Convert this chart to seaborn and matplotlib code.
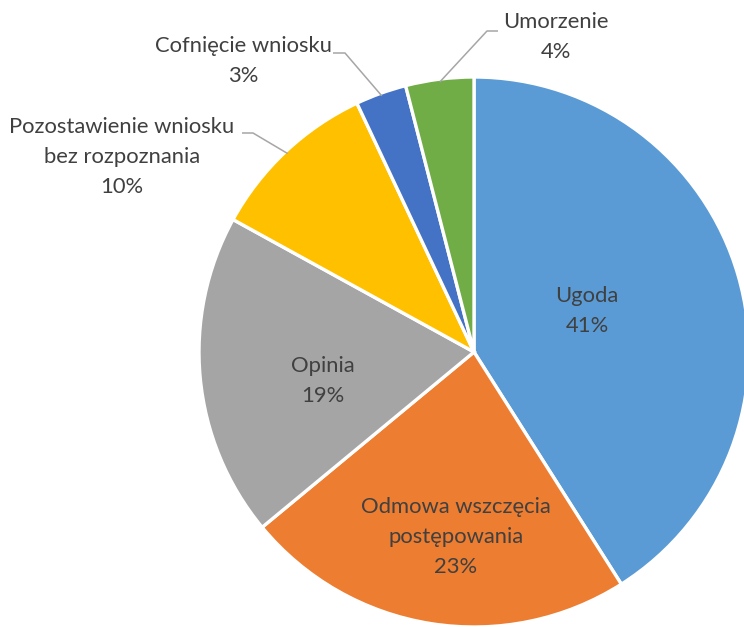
import matplotlib
matplotlib.use("Agg")
import matplotlib.pyplot as plt
import seaborn as sns
import numpy as np

# Sposób zakończenia spraw
categories = [
    "Ugoda",
    "Odmowa wszczęcia\npostępowania",
    "Opinia",
    "Pozostawienie wniosku\nbez rozpoznania",
    "Cofnięcie wniosku",
    "Umorzenie",
]
shares = [41, 23, 19, 10, 3, 4]
colors = ["#5B9BD5", "#ED7D31", "#A5A5A5", "#FFC000", "#4472C4", "#70AD47"]

sns.set_theme(style="white")
plt.rcParams["font.family"] = ["Lato", "DejaVu Sans"]

W, H = 744, 627
fig = plt.figure(figsize=(W / 100, H / 100), dpi=100)
ax = fig.add_axes([0, 0, 1, 1])

cx, cy, R = 474, H - 352, 275
wedges, _ = ax.pie(
    shares,
    colors=colors,
    startangle=90,
    counterclock=False,
    center=(cx, cy),
    radius=R,
    wedgeprops=dict(edgecolor="white", linewidth=2.4),
)
ax.set_xlim(0, W)
ax.set_ylim(0, H)
ax.set_aspect("equal")
ax.axis("off")

text_color = "#404040"
fs = 15.8

# label centres (x, y from the top edge)
label_pos = [(587, 311), (456, 537), (323, 381), (122, 157), (243, 61), (556, 37)]
# leader line elbows and ends for the small slices
leaders = {
    3: [(253, 133), (242, 133)],
    4: [(345, 53), (333, 53)],
    5: [(487, 31), (498, 31)],
}

for i, (w, name, val) in enumerate(zip(wedges, categories, shares)):
    lx, ly = label_pos[i]
    ax.text(lx, H - ly, f"{name}\n{val}%", ha="center", va="center",
            fontsize=fs, color=text_color, linespacing=1.6)
    if i in leaders:
        mid = np.deg2rad((w.theta1 + w.theta2) / 2)
        ax_pt = (cx + R * 0.99 * np.cos(mid), cy + R * 0.99 * np.sin(mid))
        pts = [ax_pt] + [(x, H - y) for x, y in leaders[i]]
        xs, ys = zip(*pts)
        ax.plot(xs, ys, color="#A6A6A6", lw=1.1, solid_capstyle="butt", zorder=3)

fig.savefig("out.png", dpi=100, facecolor="white")
